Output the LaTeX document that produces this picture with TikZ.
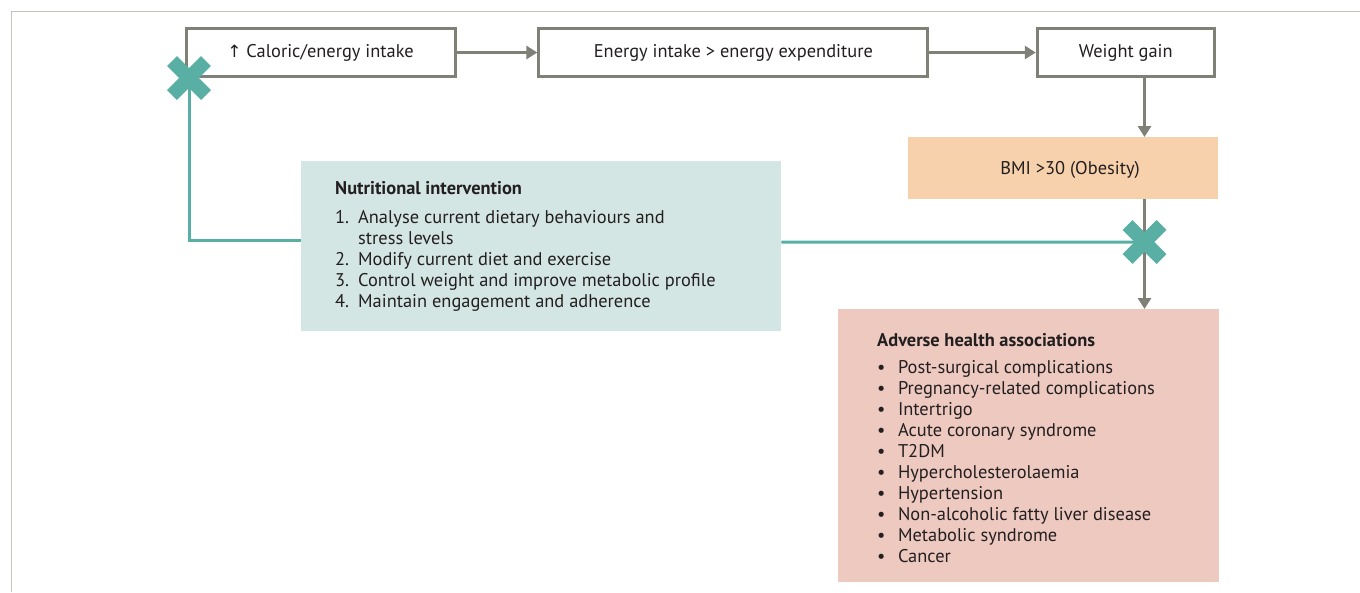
\documentclass[tikz,border=0pt]{standalone}
\usepackage{fontspec}
\setmainfont{PT Sans}
\newfontfamily\symfont{DejaVu Sans}
\usetikzlibrary{arrows.meta}
\definecolor{boxgrey}{HTML}{7F8076}
\definecolor{tealx}{HTML}{5AAFA5}
\definecolor{nutfill}{HTML}{D4E6E3}
\definecolor{bmifill}{HTML}{F7D1AC}
\definecolor{advfill}{HTML}{EDC9C0}
\definecolor{framegrey}{HTML}{C4C4BC}
\definecolor{txt}{HTML}{231F20}
\begin{document}
\begin{tikzpicture}[x=1pt,y=-1pt,
  every node/.style={text=txt, font=\fontsize{18.4}{21}\selectfont},
  flowbox/.style={draw=boxgrey, line width=3pt, fill=white, inner sep=0pt,
    minimum width=#1, minimum height=48pt},
  fillbox/.style={fill=#1, draw=none, inner sep=0pt, anchor=north west},
  greyarrow/.style={draw=boxgrey, line width=3pt, -{Triangle[length=11pt,width=13pt]}},
  tealline/.style={draw=tealx, line width=3pt},
  xmark/.style={draw=tealx, line width=14pt}
]
\useasboundingbox (0,0) rectangle (1360,592);
% frame
\draw[framegrey, line width=1.5pt] (11.5,592) -- (11.5,11.5) -- (1360,11.5);

% top row
\node[flowbox=269pt] (b1) at (320.5,52.5) {{\symfont\fontsize{17}{21}\selectfont ↑} Caloric/energy intake};
\node[flowbox=389pt] (b2) at (733.35,52.5) {Energy intake > energy expenditure};
\node[flowbox=177pt] (b3) at (1125.8,52.5) {Weight gain};

% BMI box
\node[fillbox=bmifill, minimum width=310pt, minimum height=62pt] (bmi) at (908,137) {};
\node (bmit) at (1070,170) {BMI >30 (Obesity)};

% nutrition box
\node[fillbox=nutfill, minimum width=480pt, minimum height=170pt] (nut) at (301,161) {};
\node[anchor=base west, inner sep=0pt] (nutt) at (335,194.5) {%
  \begin{tabular}[t]{@{}l@{\hspace{9pt}}l@{}}
  \multicolumn{2}{@{}l}{\bfseries Nutritional intervention}\\[8pt]
  1. & Analyse current dietary behaviours and\\
     & stress levels\\
  2. & Modify current diet and exercise\\
  3. & Control weight and improve metabolic profile\\
  4. & Maintain engagement and adherence
  \end{tabular}};

% adverse box
\node[fillbox=advfill, minimum width=381pt, minimum height=273pt] (adv) at (838,309) {};
\node[anchor=base west, inner sep=0pt] (advt) at (877,346) {%
  \begin{tabular}[t]{@{}l@{\hspace{12.5pt}}l@{}}
  \multicolumn{2}{@{}l}{\bfseries Adverse health associations}\\[6pt]
  \textbullet & Post-surgical complications\\
  \textbullet & Pregnancy-related complications\\
  \textbullet & Intertrigo\\
  \textbullet & Acute coronary syndrome\\
  \textbullet & T2DM\\
  \textbullet & Hypercholesterolaemia\\
  \textbullet & Hypertension\\
  \textbullet & Non-alcoholic fatty liver disease\\
  \textbullet & Metabolic syndrome\\
  \textbullet & Cancer
  \end{tabular}};

% coordinates
\coordinate (xL) at (189,78);
\coordinate (xR) at (1144.5,242);
\coordinate (vx) at (1144.5,0);

% grey connectors
\draw[greyarrow] (b1) -- (b2);
\draw[greyarrow] (b2) -- (b3);
\draw[greyarrow] (b3.south -| vx) -- (bmi.north -| vx);
\draw[greyarrow] (bmi.south -| vx) -- (adv.north -| vx);

% teal connectors
\draw[tealline] (xL) |- ([yshift=6pt]nut.west);
\draw[tealline] ([yshift=4pt]nut.east) -- (xR);

% X marks
\foreach \c in {xL,xR}{
  \draw[xmark] ([shift={(-17,-17)}]\c) -- ([shift={(17,17)}]\c);
  \draw[xmark] ([shift={(-17,17)}]\c) -- ([shift={(17,-17)}]\c);
}
\end{tikzpicture}
\end{document}
